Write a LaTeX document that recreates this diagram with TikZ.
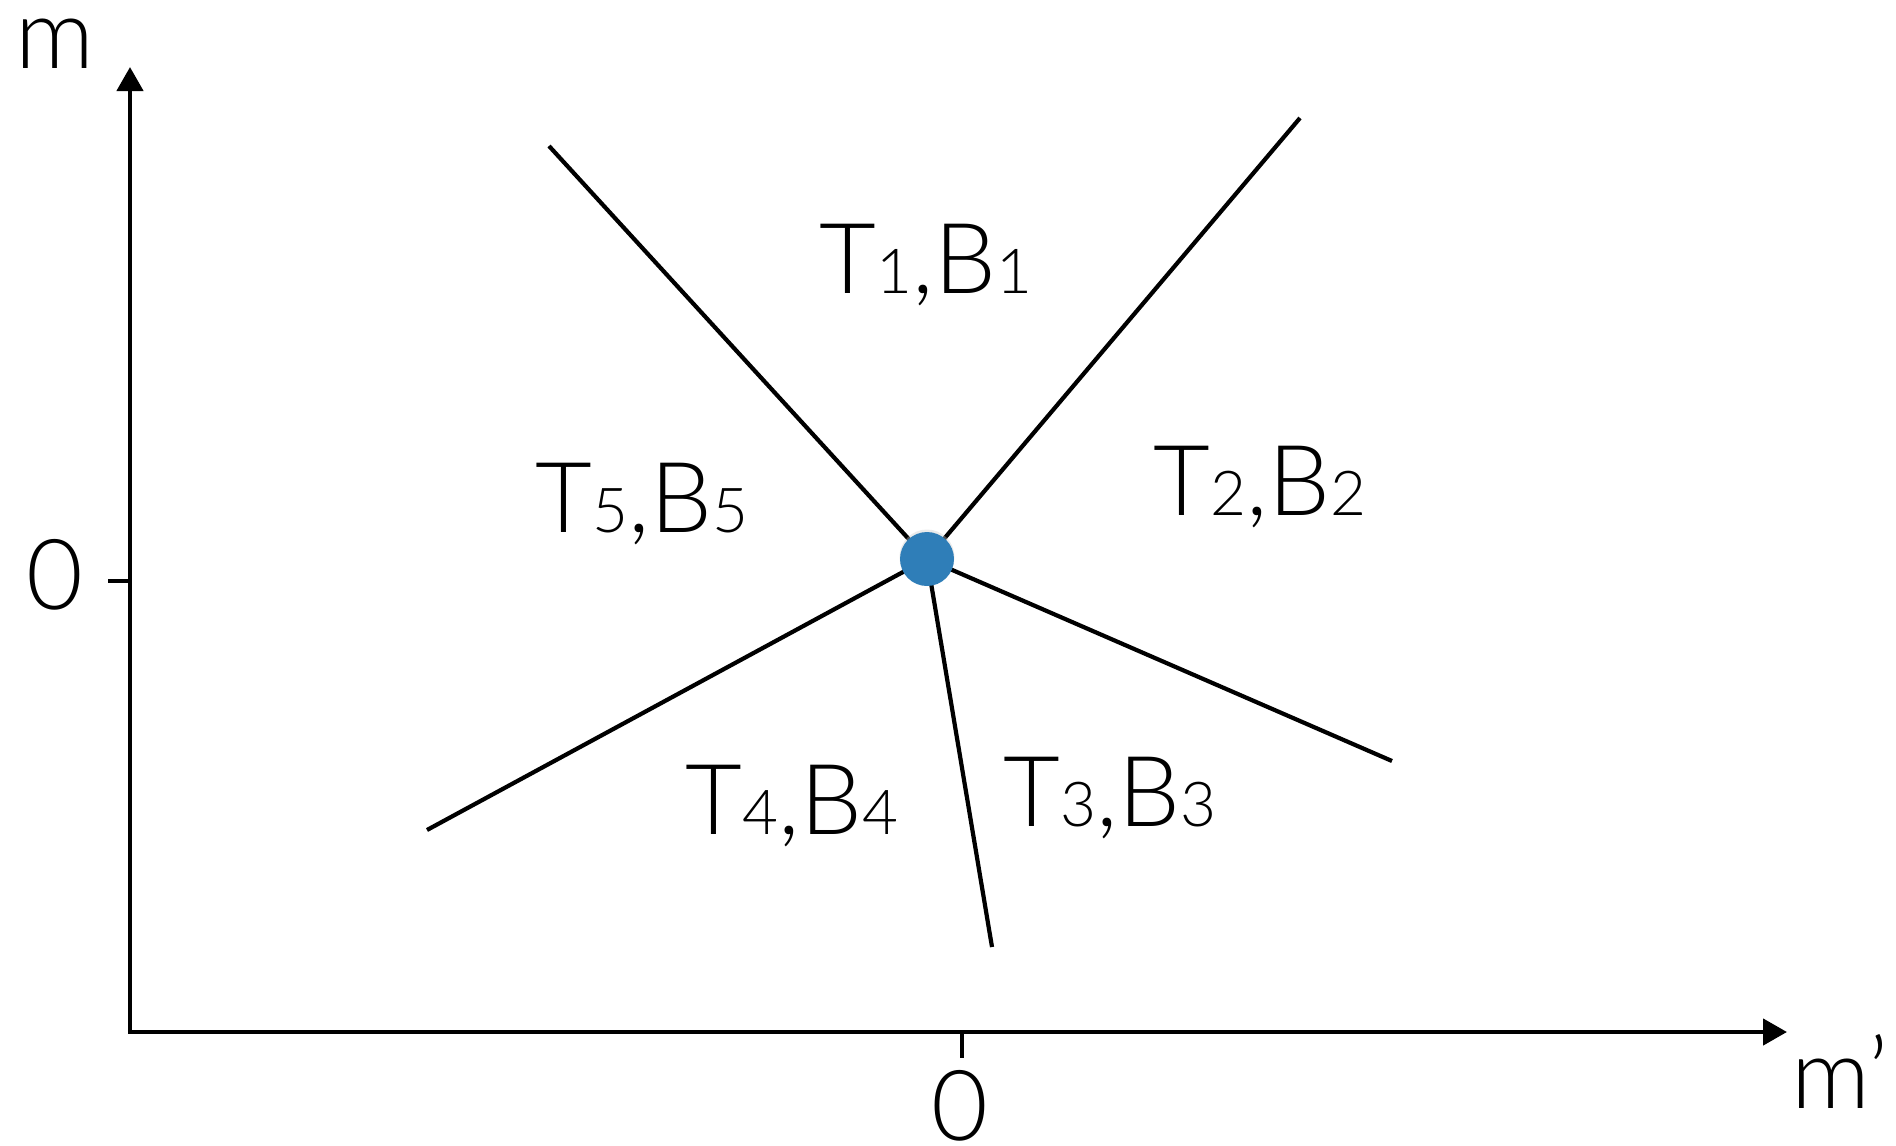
\documentclass[tikz,border=0pt]{standalone}
\usepackage{fontspec}
\setmainfont{Lato}[UprightFont={* Light}]
\usetikzlibrary{arrows.meta}
\definecolor{dotblue}{RGB}{47,126,184}
\newcommand\sd[1]{{\fontsize{62}{62}\selectfont #1}}
\begin{document}
\begin{tikzpicture}[x=1pt,y=-1pt,
  lbl/.style={inner sep=0pt,font=\fontsize{98}{100}\selectfont},
  ln/.style={line width=4.2pt,black},
  ax/.style={line width=4.5pt,black,-{Triangle[width=26pt,length=24pt]}}]
\useasboundingbox (0,0) rectangle (1896,1146);
\coordinate (O) at (130,1032);
\coordinate (ytop) at (130,67);
\coordinate (xend) at (1787,1032);
\draw[ax] ([yshift=2.25pt]O) -- (ytop);
\draw[ax] ([xshift=-2.25pt]O) -- (xend);
\coordinate (yt1) at (108,581);
\coordinate (yt2) at (130,581);
\draw[line width=4pt] (yt1) -- (yt2);
\coordinate (xt1) at (962,1032);
\coordinate (xt2) at (962,1058);
\draw[line width=4pt] (xt1) -- (xt2);
\node[lbl,anchor=base] (ml) at (55,68) {m};
\node[lbl,anchor=base] (mp) at (1840,1108) {m’};
\node[lbl,anchor=base] (y0) at (55,609) {0};
\node[lbl,anchor=base] (x0) at (960,1140) {0};
\coordinate (c) at (927,559);
\coordinate (e1) at (549,146);
\coordinate (e2) at (1300,118);
\coordinate (e3) at (1392,761);
\coordinate (e4) at (992,947);
\coordinate (e5) at (427,830);
\foreach \e in {e1,e2,e3,e4,e5} \draw[ln] (c) -- (\e);
\fill[black!20,opacity=0.4] ([yshift=2pt]c) circle (27.5pt);
\node[circle,fill=dotblue,minimum size=54pt,inner sep=0pt] (dot) at (c) {};
\node[lbl] (r1) at (926,265) {T\sd{1},B\sd{1}};
\node[lbl] (r2) at (1260,487) {T\sd{2},B\sd{2}};
\node[lbl] (r5) at (642,504) {T\sd{5},B\sd{5}};
\node[lbl] (r4) at (792,806) {T\sd{4},B\sd{4}};
\node[lbl] (r3) at (1110,798) {T\sd{3},B\sd{3}};
\end{tikzpicture}
\end{document}
